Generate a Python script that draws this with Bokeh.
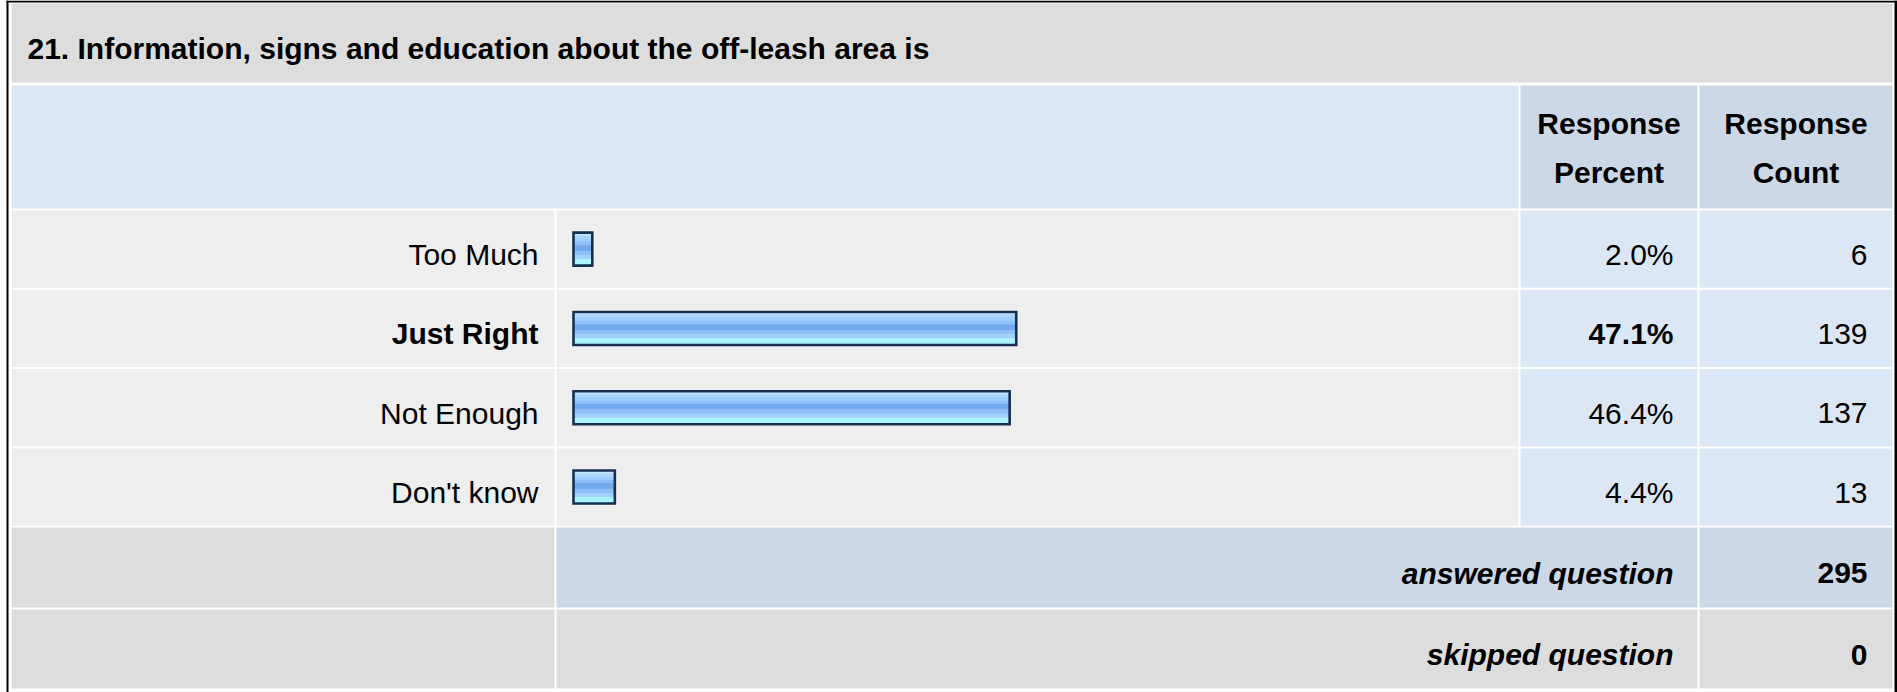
from bokeh.plotting import figure
from bokeh.models import Range1d, ColumnDataSource
from bokeh.core.properties import value
from bokeh.embed import file_html
from bokeh.resources import INLINE

# ---- survey data ----
TITLE = "21. Information, signs and education about the off-leash area is"
categories = ["Too Much", "Just Right", "Not Enough", "Don't know"]
percents = [2.0, 47.1, 46.4, 4.4]
counts = [6, 139, 137, 13]
header_percent = ["Response", "Percent"]
header_count = ["Response", "Count"]
summary_labels = ["answered question", "skipped question"]
summary_counts = [295, 0]

# ---- page geometry (pixels from top-left) ----
W, H = 1897, 692
FONT = value("Liberation Sans")
FS = "30px"

X_LEFT, X_LABEL_R = 11, 554
X_BAR_L, X_BAR_R = 556, 1518
X_PCT_L, X_PCT_R = 1520, 1697
X_CNT_L, X_CNT_R = 1699, 1892

TITLE_ROW = (3, 82)
HEADER_ROW = (85, 208)
DATA_TOP, DATA_PITCH, DATA_H = 210.0, 79.3, 77.3
SUMMARY_ROWS = [(527, 607), (609, 688)]

BAR_X0 = 573          # pixel where 0 % sits
PX_PER_PCT = 9.4
BAR_HALF = 16.5

GREY = "#dddddd"
ROW_GREY = "#eeeeee"
LIGHT_BLUE = "#dce7f5"
MID_BLUE = "#ccd8e6"
TEXT = "#000000"

# gradient stripes of a bar, top to bottom: (share of height, colour)
STRIPES = [
    (0.08, "#c9e4ff"),
    (0.09, "#acd6ff"),
    (0.10, "#9ccdff"),
    (0.11, "#8dbff9"),
    (0.17, "#72a9ee"),
    (0.13, "#8ec0f8"),
    (0.12, "#a0d1ff"),
    (0.20, "#abf4ff"),
]

p = figure(width=W, height=H, output_backend="svg", toolbar_location=None,
           x_range=Range1d(0, W), y_range=Range1d(H, 0),
           min_border=0, background_fill_color="white",
           border_fill_color="white")
p.xaxis.visible = False
p.yaxis.visible = False
p.grid.visible = False
p.outline_line_color = None
p.extra_x_ranges = {"pct": Range1d(-BAR_X0 / PX_PER_PCT, (W - BAR_X0) / PX_PER_PCT)}

# ---- cell backgrounds ----
cells = dict(left=[], right=[], top=[], bottom=[], color=[])


def cell(l, r, t, b, c):
    cells["left"].append(l)
    cells["right"].append(r)
    cells["top"].append(t)
    cells["bottom"].append(b)
    cells["color"].append(c)


cell(X_LEFT, X_CNT_R, TITLE_ROW[0], TITLE_ROW[1], GREY)
cell(X_LEFT, X_BAR_R, HEADER_ROW[0], HEADER_ROW[1], LIGHT_BLUE)
cell(X_PCT_L, X_PCT_R, HEADER_ROW[0], HEADER_ROW[1], MID_BLUE)
cell(X_CNT_L, X_CNT_R, HEADER_ROW[0], HEADER_ROW[1], MID_BLUE)

row_spans = []
for i in range(len(categories)):
    t = DATA_TOP + i * DATA_PITCH
    b = t + DATA_H
    row_spans.append((t, b))
    cell(X_LEFT, X_LABEL_R, t, b, ROW_GREY)
    cell(X_BAR_L, X_BAR_R, t, b, ROW_GREY)
    cell(X_PCT_L, X_PCT_R, t, b, LIGHT_BLUE)
    cell(X_CNT_L, X_CNT_R, t, b, LIGHT_BLUE)

(at, ab), (st, sb) = SUMMARY_ROWS
cell(X_LEFT, X_LABEL_R, at, ab, GREY)
cell(X_BAR_L, X_PCT_R, at, ab, MID_BLUE)
cell(X_CNT_L, X_CNT_R, at, ab, MID_BLUE)
cell(X_LEFT, X_LABEL_R, st, sb, GREY)
cell(X_BAR_L, X_PCT_R, st, sb, GREY)
cell(X_CNT_L, X_CNT_R, st, sb, GREY)

p.quad(source=ColumnDataSource(cells), left="left", right="right",
       top="top", bottom="bottom", fill_color="color", line_color=None)

# outer frame
p.quad(left=[6, 1894, 6], right=[8, W, W], top=[0, 0, 0], bottom=[H, H, 2],
       fill_color="black", line_color=None)

# ---- bars (x in percent units) ----
centers = [(t + b) / 2 for t, b in row_spans]
stripe = dict(left=[], right=[], top=[], bottom=[], color=[])
for pct, c in zip(percents, centers):
    y = c - BAR_HALF
    for share, col in STRIPES:
        h = share * 2 * BAR_HALF
        stripe["left"].append(0)
        stripe["right"].append(pct)
        stripe["top"].append(y)
        stripe["bottom"].append(y + h + 0.4)
        stripe["color"].append(col)
        y += h
p.quad(source=ColumnDataSource(stripe), left="left", right="right",
       top="top", bottom="bottom", fill_color="color", line_color=None,
       x_range_name="pct")
p.quad(left=[0] * len(percents), right=percents,
       top=[c - BAR_HALF for c in centers], bottom=[c + BAR_HALF for c in centers],
       fill_color=None, line_color="#16304f", line_width=2.6, line_join="miter",
       x_range_name="pct")

# ---- texts ----
BASE = 5.5   # vertical offset of text anchor below a row's centre


def txt(x, y, s, align="left", style="normal"):
    p.text(x=[x], y=[y], text=[s], text_font=FONT, text_font_size=FS,
           text_font_style=style, text_align=align, text_baseline="alphabetic",
           text_color=TEXT)


txt(27, sum(TITLE_ROW) / 2 + 5, TITLE, "left", "bold")

hc = sum(HEADER_ROW) / 2
for y_off, a, b in zip((-24, 25), header_percent, header_count):
    txt((X_PCT_L + X_PCT_R) / 2, hc + y_off, a, "center", "bold")
    txt((X_CNT_L + X_CNT_R) / 2, hc + y_off, b, "center", "bold")

top_idx = percents.index(max(percents))
for i, (cat, pct, cnt) in enumerate(zip(categories, percents, counts)):
    y = centers[i] + BASE
    style = "bold" if i == top_idx else "normal"
    txt(X_LABEL_R - 16, y, cat, "right", style)
    txt(X_PCT_R - 24, y, f"{pct:.1f}%", "right", style)
    txt(X_CNT_R - 25, y, str(cnt), "right", "normal")

for (t, b), lab, n in zip(SUMMARY_ROWS, summary_labels, summary_counts):
    y = (t + b) / 2 + BASE
    txt(X_PCT_R - 24, y, lab, "right", "bold italic")
    txt(X_CNT_R - 25, y, str(n), "right", "bold")

open("out.html", "w").write(file_html(p, INLINE))
